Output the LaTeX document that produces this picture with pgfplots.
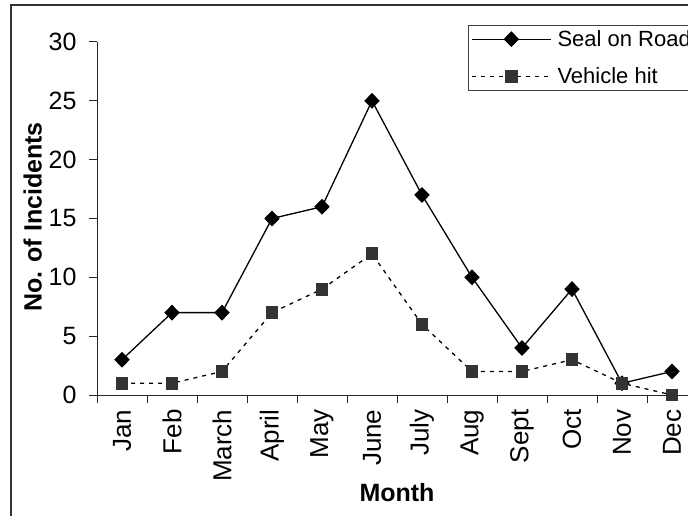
\documentclass[border=0pt]{standalone}
\usepackage{fontspec}
\setmainfont{Liberation Sans}
\usepackage{pgfplots}
\pgfplotsset{compat=1.18}
\begin{document}
\begin{tikzpicture}[x=1pt,y=1pt]
\draw[line width=1.5pt,black!80] (11,-30) -- (11,510) -- (730,510);
\begin{axis}[
    at={(97pt,120pt)}, anchor=south west,
    scale only axis, width=600pt, height=353pt,
    xmin=0.5, xmax=12.5, ymin=0, ymax=30,
    axis x line=bottom, axis y line=left,
    axis line style={-, line width=1pt, black!85},
    tick align=outside, major tick length=8pt,
    tick style={line width=1pt, black!85},
    xtick={0.5,1.5,...,12.5}, xticklabels={},
    extra x ticks={1,...,12},
    extra x tick labels={Jan,Feb,March,April,May,June,July,Aug,Sept,Oct,Nov,Dec},
    extra x tick style={major tick length=0pt,
        xticklabel style={yshift=-11pt, rotate=90, anchor=east,
            font=\fontsize{26}{30}\selectfont}},
    ytick={0,5,...,30},
    tick label style={font=\fontsize{25}{30}\selectfont},
    yticklabel style={xshift=-9pt},
    /pgf/number format/assume math mode=true,
    xlabel={\textbf{Month}}, ylabel={\textbf{No. of Incidents}},
    label style={font=\fontsize{25}{30}\selectfont},
    ylabel style={at={(axis description cs:-0.107,0.504)}, anchor=center},
    xlabel style={at={(axis description cs:0.5,-0.275)}, anchor=center},
    clip=false,
    legend style={at={(axis description cs:0.618,1.048)}, anchor=north west,
        draw=black!75, line width=0.8pt, font=\fontsize{22}{26}\selectfont,
        row sep=16pt, column sep=4pt, inner sep=3pt},
    legend cell align=left,
    legend image code/.code={\draw[mark repeat=2,mark phase=2,#1]
        plot coordinates {(0pt,0pt)(39.5pt,0pt)(79pt,0pt)};},
]
\addplot[black, line width=1.3pt, mark=diamond*, mark size=7pt,
    mark options={solid, fill=black, xscale=1.3}]
    coordinates {(1,3)(2,7)(3,7)(4,15)(5,16)(6,25)(7,17)(8,10)(9,4)(10,9)(11,1)(12,2)};
\addlegendentry{Seal on Road}
\addplot[black, line width=1.3pt, dash pattern=on 4pt off 5pt, mark=square*, mark size=5.8pt,
    mark options={solid, fill=black!80, draw=black!80}]
    coordinates {(1,1)(2,1)(3,2)(4,7)(5,9)(6,12)(7,6)(8,2)(9,2)(10,3)(11,1)(12,0)};
\addlegendentry{Vehicle hit}
\end{axis}
\pgfresetboundingbox
\path[use as bounding box] (0,0) rectangle (688,515);
\end{tikzpicture}
\end{document}
